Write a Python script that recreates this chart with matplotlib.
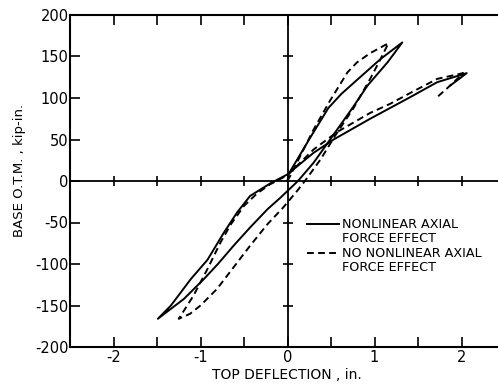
import matplotlib
matplotlib.use("Agg")
import matplotlib.pyplot as plt
import numpy as np

plt.rcParams['axes.unicode_minus'] = False
plt.rcParams['font.family'] = 'DejaVu Sans'

# hysteresis path, nonlinear axial force effect (solid)
# initial loading -> unloading -> reloading -> final unloading
solid_x = [0.0, 0.01, 0.26, 0.47, 0.62, 0.78, 1.07, 1.32,
           1.15, 0.92, 0.74, 0.49, 0.30, 0.12, -0.08, -0.23, -0.43, -0.62,
           -0.80, -0.96, -1.19, -1.34, -1.49,
           -1.34, -1.11, -0.92, -0.73, -0.58, -0.43, -0.20, 0.0, 0.30, 0.53,
           0.95, 1.18, 1.41, 1.72, 2.06,
           1.96, 1.87]
solid_y = [0, 8, 52, 88, 105, 120, 147, 167,
           143, 115, 87, 50, 22, 0, -20, -34, -56, -78,
           -100, -118, -142, -154, -166,
           -150, -118, -95, -62, -38, -18, -3, 8, 34, 50,
           75, 88, 101, 119, 130,
           122, 115]

# no nonlinear axial force effect (dashed)
dashed_x = [0.0, 0.05, 0.30, 0.49, 0.69, 0.80, 0.95, 1.16,
            1.07, 0.95, 0.76, 0.55, 0.38, 0.20, 0.11, -0.05, -0.23, -0.43,
            -0.62, -0.81, -1.00, -1.12, -1.25,
            -1.08, -0.92, -0.77, -0.65, -0.50, -0.35, -0.20, 0.0, 0.30, 0.57,
            0.95, 1.18, 1.41, 1.72, 2.02,
            1.88, 1.72]
dashed_y = [0, 10, 62, 97, 131, 143, 154, 166,
            147, 123, 88, 55, 26, 0, -12, -32, -52, -78,
            -104, -130, -150, -160, -166,
            -138, -106, -74, -52, -30, -15, -4, 7, 38, 59,
            82, 93, 106, 123, 130,
            116, 101]

legend_labels = [['NONLINEAR AXIAL', 'FORCE EFFECT'],
                 ['NO NONLINEAR AXIAL', 'FORCE EFFECT']]

fig = plt.figure(figsize=(4.98, 3.89), dpi=100)
ax = fig.add_axes([70 / 498, 42 / 389, 435 / 498, 332 / 389])

ax.set_xlim(-2.5, 2.5)
ax.set_ylim(-200, 200)

ax.plot(solid_x, solid_y, color='black', lw=1.4, solid_joinstyle='round')
ax.plot(dashed_x, dashed_y, color='black', lw=1.4, linestyle=(0, (3.5, 2.2)))

# axes through the origin with their own tick crosses
ax.axhline(0, color='black', lw=1.3)
ax.axvline(0, color='black', lw=1.3)
xt = np.arange(-2.5, 2.51, 0.5)
xt = xt[xt != 0]
yt = np.arange(-150, 151, 50)
yt = yt[yt != 0]
ax.plot(xt, np.zeros_like(xt), ls='none', marker='|', color='black', ms=7, mew=1.2)
ax.plot(np.zeros_like(yt), yt, ls='none', marker='_', color='black', ms=7, mew=1.2)

ax.set_xticks([-2, -1, 0, 1, 2])
ax.set_xticklabels(['-2', '-1', '0', '1', '2'])
ax.set_xticks(np.arange(-2.5, 2.51, 0.5), minor=True)
ax.set_yticks(np.arange(-200, 201, 50))
ax.set_yticklabels(['-200', '-150', '-100', '-50', '0', '50', '100', '150', '200'])
ax.tick_params(which='both', direction='in', length=7, width=1.2, top=True,
               labelsize=10.5, pad=2)
ax.tick_params(axis='y', pad=1)
for s in ax.spines.values():
    s.set_linewidth(1.5)

fig.text(287 / 498, 1 - 375 / 389, 'TOP DEFLECTION , in.', ha='center', va='center',
         fontsize=10)
fig.text(20 / 498, 1 - 170 / 389, 'BASE O.T.M. , kip-in.', ha='center', va='center',
         rotation=90, fontsize=9.5)

# hand-drawn style legend
styles = ['-', (0, (3.5, 2.2))]
rows = [-52, -87]
for st, y0, lab in zip(styles, rows, legend_labels):
    ax.plot([0.22, 0.59], [y0, y0], color='black', lw=1.4, linestyle=st)
    ax.text(0.63, y0, lab[0], fontsize=9.2, va='center', ha='left')
    ax.text(0.63, y0 - 17, lab[1], fontsize=9.2, va='center', ha='left')

fig.savefig('out.png', dpi=100)
